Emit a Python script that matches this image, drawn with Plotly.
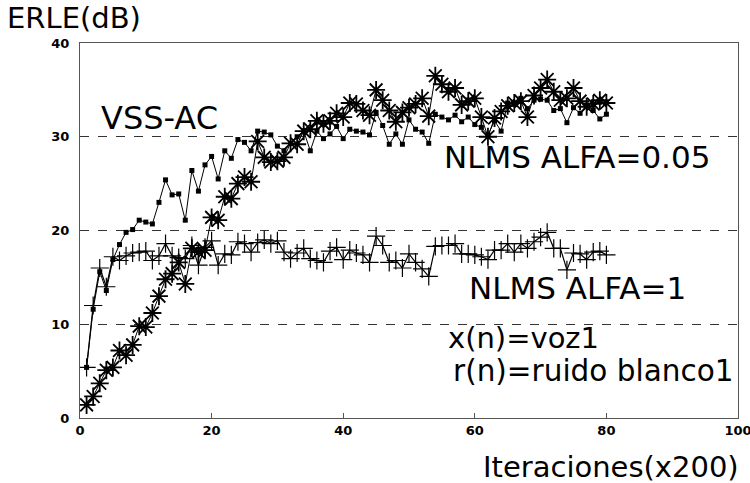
import plotly.graph_objects as go

iterations = list(range(1, 81))

vss_ac = [5.4, 11.6, 15.6, 13.6, 16.9, 18.5, 19.8, 20.1, 21.1, 20.9,
          20.7, 23.0, 25.4, 23.8, 23.9, 21.1, 26.4, 24.2, 27.0, 27.9,
          25.5, 28.5, 27.7, 29.7, 29.4, 28.5, 30.6, 30.5, 30.2, 29.0,
          28.5, 29.3, 30.0, 30.6, 28.5, 30.6, 29.8, 30.3, 31.1, 29.8,
          30.8, 30.6, 30.5, 30.2, 32.6, 31.2, 29.2, 30.3, 29.2, 31.8,
          30.8, 30.5, 29.3, 32.4, 32.1, 31.8, 32.3, 31.6, 32.1, 31.3,
          31.0, 30.2, 31.7, 30.6, 33.6, 33.5, 34.1, 33.0, 33.9, 34.0,
          33.9, 32.8, 33.0, 31.5, 33.1, 32.5, 33.4, 32.8, 31.9, 32.4]

nlms_005 = [1.4, 2.3, 3.7, 5.1, 5.4, 7.2, 6.7, 7.8, 9.8, 9.7,
            11.2, 13.0, 14.8, 15.4, 16.6, 14.3, 18.1, 17.7, 17.9, 21.4,
            21.1, 23.6, 23.4, 25.0, 25.7, 25.2, 29.5, 27.8, 27.3, 27.4,
            27.8, 29.3, 29.2, 30.6, 30.8, 31.7, 31.4, 31.7, 32.5, 32.1,
            33.6, 33.5, 32.8, 32.3, 35.0, 33.9, 32.8, 31.6, 32.6, 33.1,
            33.5, 34.1, 32.2, 36.5, 35.6, 34.8, 35.2, 33.4, 33.8, 34.1,
            32.1, 30.0, 32.0, 32.7, 33.3, 33.6, 33.8, 32.1, 34.4, 35.2,
            36.1, 34.8, 33.9, 34.1, 35.2, 33.8, 33.2, 33.5, 33.9, 33.6]

nlms_1 = [5.4, 12.0, 16.0, 14.0, 17.2, 16.8, 17.3, 17.6, 17.7, 17.8,
          16.8, 17.3, 18.6, 17.3, 17.1, 17.0, 18.4, 16.3, 18.2, 18.9,
          16.3, 17.5, 17.4, 18.8, 18.6, 17.7, 18.7, 19.0, 18.6, 18.9,
          17.7, 17.0, 17.6, 18.1, 17.0, 16.8, 16.6, 17.8, 18.2, 16.9,
          17.9, 17.6, 17.4, 16.6, 19.4, 18.4, 16.6, 16.8, 16.0, 17.5,
          16.6, 15.9, 15.1, 18.3, 18.4, 18.4, 18.6, 17.5, 17.5, 17.4,
          17.2, 16.9, 17.9, 17.9, 18.6, 17.7, 18.6, 18.1, 18.8, 19.3,
          19.8, 18.1, 18.1, 15.8, 17.6, 17.5, 16.9, 17.7, 17.8, 17.4]

x_ticks = [0, 20, 40, 60, 80, 100]
y_ticks = [0, 10, 20, 30, 40]

fig = go.Figure()

fig.add_trace(go.Scatter(
    x=iterations, y=nlms_1, mode="lines+markers", name="NLMS ALFA=1",
    line=dict(color="black", width=1.2),
    marker=dict(symbol="cross-thin", size=13, color="black",
                line=dict(color="black", width=1.2)),
))
fig.add_trace(go.Scatter(
    x=iterations, y=nlms_005, mode="lines+markers", name="NLMS ALFA=0.05",
    line=dict(color="black", width=1),
    marker=dict(symbol="asterisk", size=15, color="black",
                line=dict(color="black", width=1.8)),
))
fig.add_trace(go.Scatter(
    x=iterations, y=vss_ac, mode="lines+markers", name="VSS-AC",
    line=dict(color="black", width=1),
    marker=dict(symbol="square", size=5, color="black"),
))

def ann(text, x, y, size=31, xanchor="left"):
    fig.add_annotation(text=text, x=x, y=y, xref="paper", yref="paper",
                       xanchor=xanchor, yanchor="middle", showarrow=False,
                       borderpad=0,
                       font=dict(family="DejaVu Sans", size=size, color="black"))

ann("ERLE(dB)", -0.112, 1.066, size=29)
ann("VSS-AC", 0.030, 0.80, size=32)
ann("NLMS ALFA=0.05", 0.551, 0.696)
ann("NLMS ALFA=1", 0.589, 0.347)
ann("x(n)=voz1", 0.558, 0.213, size=29)
ann("r(n)=ruido blanco1", 0.566, 0.125, size=29.5)
ann("Iteraciones(x200)", 1.003, -0.131, size=29, xanchor="right")

fig.update_layout(
    width=750, height=483,
    margin=dict(l=80, r=12, t=43, b=65, autoexpand=False),
    paper_bgcolor="white", plot_bgcolor="white",
    showlegend=False,
    xaxis=dict(range=[0, 100], tickvals=x_ticks, showgrid=False, zeroline=False,
               showline=True, mirror=True, linecolor="#555", linewidth=1,
               ticks="inside", ticklen=5, tickcolor="#555", automargin=False,
               ticklabeloverflow="allow",
               tickfont=dict(family="DejaVu Sans", size=13, color="black", weight="bold")),
    yaxis=dict(range=[0, 40], tickvals=y_ticks, showgrid=True, gridcolor="#333",
               griddash="dash", gridwidth=1, zeroline=False, automargin=False,
               showline=True, mirror=True, linecolor="#555", linewidth=1,
               ticks="", ticklabelstandoff=7,
               tickfont=dict(family="DejaVu Sans", size=13, color="black", weight="bold")),
)

fig.write_html("out.html")
